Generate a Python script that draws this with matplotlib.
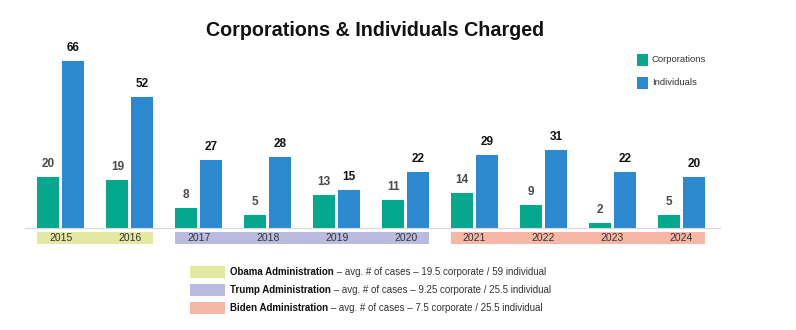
import matplotlib
matplotlib.use("Agg")
import matplotlib.pyplot as plt
from matplotlib.patches import Rectangle
import matplotlib.transforms as mtransforms

plt.rcParams['font.family'] = ['Liberation Sans', 'DejaVu Sans']

years = ["2015", "2016", "2017", "2018", "2019", "2020", "2021", "2022", "2023", "2024"]
corporations = [20, 19, 8, 5, 13, 11, 14, 9, 2, 5]
individuals = [66, 52, 27, 28, 15, 22, 29, 31, 22, 20]

admin_names = ["Obama Administration", "Trump Administration", "Biden Administration"]
admin_spans = [(0, 1), (2, 5), (6, 9)]
admin_notes = [
    " \u2013 avg. # of cases \u2013 19.5 corporate / 59 individual",
    " \u2013 avg. # of cases \u2013 9.25 corporate / 25.5 individual",
    " \u2013 avg. # of cases \u2013 7.5 corporate / 25.5 individual",
]
admin_colors = ["#E3E8A2", "#BBBBE0", "#F7B7A6"]

green = "#05A88C"
blue = "#2C89D0"

fig = plt.figure(figsize=(7.96, 3.30), dpi=100)
ax = fig.add_axes([25 / 796, 102 / 330, 695 / 796, 177 / 330])

x = list(range(len(years)))
off, w = 0.18, 0.32
gx = [i - off for i in x]
bx = [i + off for i in x]
ax.bar(gx, corporations, width=w, color=green, label="Corporations")
ax.bar(bx, individuals, width=w, color=blue, label="Individuals")

for xi, v in zip(gx, corporations):
    ax.annotate(str(v), (xi, v), xytext=(0, 5), textcoords="offset points",
                ha="center", va="bottom", fontsize=8.5, fontweight="bold", color="#4a4a4a")
for xi, v in zip(bx, individuals):
    ax.annotate(str(v), (xi, v), xytext=(0, 5), textcoords="offset points",
                ha="center", va="bottom", fontsize=8.5, fontweight="bold", color="#111111")

ax.set_xlim(-0.52, 9.56)
ax.set_ylim(0, 70)
for s in ["top", "right", "left"]:
    ax.spines[s].set_visible(False)
ax.spines["bottom"].set_color("#d8d8d8")
ax.set_xticks([])
ax.set_yticks([])

# administration bands under the axis with year labels
trans = mtransforms.blended_transform_factory(ax.transData, ax.transAxes)
band_top = -4 / 177
band_h = 12 / 177
for (a, b), c in zip(admin_spans, admin_colors):
    ax.add_patch(Rectangle((a - 0.34, band_top - band_h), (b - a) + 0.68, band_h,
                           transform=trans, color=c, clip_on=False, lw=0))
for i, yl in zip(x, years):
    ax.text(i, band_top - band_h / 2, yl, transform=trans, ha="center", va="center",
            fontsize=7.5, color="#333333")

fig.text(375 / 796, 1 - 30 / 330, "Corporations & Individuals Charged", ha="center",
         va="center", fontsize=14.2, fontweight="bold", color="#111111")

# series legend, top right
leg_items = [("Corporations", green, 60), ("Individuals", blue, 83)]
for lab, c, yc in leg_items:
    fig.patches.append(Rectangle((637 / 796, 1 - (yc + 6) / 330), 11 / 796, 12 / 330,
                                 transform=fig.transFigure, color=c, lw=0))
    fig.text(652 / 796, 1 - yc / 330, lab, ha="left", va="center", fontsize=6.8,
             color="#333333")

# administration legend, bottom
renderer = fig.canvas.get_renderer()
for name, note, c, yc in zip(admin_names, admin_notes, admin_colors, [272, 290, 308]):
    fig.patches.append(Rectangle((190 / 796, 1 - (yc + 6) / 330), 35 / 796, 12 / 330,
                                 transform=fig.transFigure, color=c, lw=0))
    t = fig.text(230 / 796, 1 - yc / 330, name, ha="left", va="center", fontsize=7.05,
                 fontweight="bold", color="#111111")
    bb = t.get_window_extent(renderer)
    fig.text(bb.x1 / fig.bbox.width, 1 - yc / 330, note, ha="left", va="center",
             fontsize=7.05, color="#333333")

fig.savefig("out.png", dpi=100)
